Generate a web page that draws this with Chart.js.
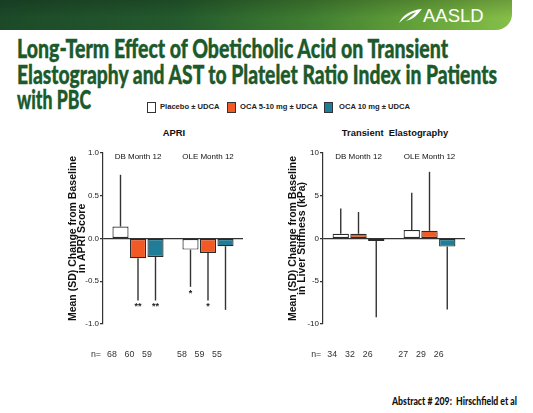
<!DOCTYPE html>
<html><head><meta charset="utf-8">
<script src="https://cdn.jsdelivr.net/npm/chart.js@4.4.0/dist/chart.umd.min.js"></script>
<style>
body{margin:0;width:533px;height:413px;overflow:hidden;background:#fff;font-family:'Liberation Sans',Arial,sans-serif;position:relative}
.abs{position:absolute;white-space:nowrap}
#hdr{position:absolute;left:0;top:0;width:512px;height:30px;border-bottom-right-radius:16px;
 background:linear-gradient(180deg,rgba(0,0,0,0.18),rgba(0,0,0,0) 60%),linear-gradient(90deg,#1c4a29 0%,#245a2d 35%,#3f7d31 60%,#6aa83c 85%,#86bf49 100%)}
#logo{position:absolute;left:423px;top:6px;color:#fff;font-size:18.5px;font-family:'Liberation Sans',Arial,sans-serif;line-height:20px}
.tl{position:absolute;left:17px;font-family:Lato,'Liberation Sans',sans-serif;font-weight:900;font-size:26px;color:#1c5a2b;line-height:26px;white-space:nowrap;transform-origin:0 0;-webkit-text-stroke:0.4px #1c5a2b}
.ct{position:absolute;font-weight:bold;font-size:9.4px;color:#111;transform:translateX(-50%);white-space:nowrap}
.lb{position:absolute;width:7px;height:9px;border:1px solid #333;top:102px}
.lt{position:absolute;top:102px;font-size:7.6px;font-weight:bold;color:#222;line-height:10px;white-space:nowrap}
canvas{position:absolute}
#foot{position:absolute;left:392px;top:395px;font-family:Lato,'Liberation Sans',sans-serif;font-weight:900;font-size:10.5px;color:#111;white-space:nowrap;transform-origin:0 0;line-height:12px}
</style></head>
<body>
<div id="hdr"></div>
<svg class="abs" style="left:398px;top:8px" width="25" height="16" viewBox="0 0 25 16"><path d="M1 15 C4 8 12 2 24 1 C20 6 16 11 8 13 C12 10 15 7 18 4 C12 6 6 10 1 15 Z" fill="#fff"/></svg>
<div id="logo">AASLD</div>
<div class="tl" data-w="431" style="top:35px"><span>Long-Term Effect of Obeticholic Acid on Transient</span></div>
<div class="tl" data-w="480" style="top:61px"><span>Elastography and AST to Platelet Ratio Index in Patients</span></div>
<div class="tl" data-w="74" style="top:86px"><span>with PBC</span></div>

<div class="lb" style="left:147px;background:#fff"></div><div class="lt" style="left:160px">Placebo ± UDCA</div>
<div class="lb" style="left:227px;background:#f15a24"></div><div class="lt" style="left:240px">OCA 5-10 mg ± UDCA</div>
<div class="lb" style="left:324px;background:#1f7d98"></div><div class="lt" style="left:339px">OCA 10 mg ± UDCA</div>

<div class="ct" style="left:174px;top:127px">APRI</div>
<div class="ct" style="left:395px;top:127px">Transient&nbsp; Elastography</div>

<canvas id="c1" width="200" height="245" style="left:60px;top:120px"></canvas>
<canvas id="c2" width="200" height="245" style="left:280px;top:120px"></canvas>

<div id="foot" data-w="125">Abstract # 209:&nbsp; Hirschfield et al</div>

<script>
// ---- data ----
const groups = ['DB Month 12', 'OLE Month 12'];
const seriesNames = ['Placebo ± UDCA', 'OCA 5-10 mg ± UDCA', 'OCA 10 mg ± UDCA'];

const apriPlacebo = [0.14, -0.13];
const apriOca510  = [-0.23, -0.17];
const apriOca10   = [-0.215, -0.09];
const apriPlaceboSD = [0.605, 0.435];
const apriOca510SD  = [0.495, 0.555];
const apriOca10SD   = [0.51, 0.745];
const apriPlaceboStars = ['', '*'];
const apriOca510Stars  = ['**', '*'];
const apriOca10Stars   = ['**', ''];
const apriPlaceboN = [68, 58];
const apriOca510N  = [60, 59];
const apriOca10N   = [59, 55];
const apriTicks = [-1.0, -0.5, 0.0, 0.5, 1.0];

const tePlacebo = [0.55, 1.0];
const teOca510  = [0.55, 0.9];
const teOca10   = [-0.3, -0.95];
const tePlaceboSD = [2.95, 4.35];
const teOca510SD  = [2.55, 6.9];
const teOca10SD   = [8.9, 7.35];
const tePlaceboStars = ['', ''];
const teOca510Stars  = ['', ''];
const teOca10Stars   = ['', ''];
const tePlaceboN = [34, 27];
const teOca510N  = [32, 29];
const teOca10N   = [26, 26];
const teTicks = [-10, -5, 0, 5, 10];

const colors = ['#ffffff', '#f15a24', '#1f7d98'];

Chart.defaults.font.family = "'Liberation Sans', Arial, sans-serif";
Chart.defaults.color = '#222';

const annot = {
  id: 'annot',
  afterDatasetsDraw(chart) {
    const ctx = chart.ctx, y = chart.scales.y, x = chart.scales.x, ca = chart.chartArea;
    ctx.save();
    let firstX = null;
    chart.data.datasets.forEach((ds, di) => {
      const meta = chart.getDatasetMeta(di);
      meta.data.forEach((bar, i) => {
        const v = ds.data[i], s = ds.sd[i];
        const end = v >= 0 ? v + s : v - s;
        const yv = y.getPixelForValue(v), ye = y.getPixelForValue(end);
        ctx.strokeStyle = '#333'; ctx.lineWidth = 1.4;
        ctx.beginPath(); ctx.moveTo(bar.x, yv); ctx.lineTo(bar.x, ye); ctx.stroke();
        ctx.fillStyle = '#222'; ctx.textAlign = 'center';
        if (ds.stars[i]) {
          ctx.font = "bold 9px 'Liberation Sans', Arial";
          ctx.textBaseline = 'top';
          ctx.fillText(ds.stars[i], bar.x, ye + 2);
        }
        ctx.font = "8.8px 'Liberation Sans', Arial";
        ctx.textBaseline = 'middle';
        ctx.fillStyle = '#333';
        ctx.fillText(String(ds.n[i]), bar.x - 8.5, ca.bottom + 31);
        if (di === 0 && i === 0) firstX = bar.x - 8.5;
      });
    });
    ctx.textAlign = 'right';
    ctx.fillText('n=', firstX - 11, ca.bottom + 31);
    ctx.fillStyle = '#111';
    ctx.textAlign = 'center';
    ctx.font = "8px 'Liberation Sans', Arial";
    chart.data.labels.forEach((l, i) => {
      ctx.fillText(l, x.getPixelForValue(i), ca.top + 4);
    });
    ctx.restore();
  }
};

function makeChart(id, vals, sds, stars, ns, ticks, titleLines, fmt, titlePad, rightPad) {
  const datasets = vals.map((d, k) => ({
    label: seriesNames[k], data: d, sd: sds[k], stars: stars[k], n: ns[k],
    backgroundColor: colors[k], borderColor: '#2a2a2a', borderWidth: 1.2, borderSkipped: false,
    categoryPercentage: 0.75, barPercentage: 0.92
  }));
  return new Chart(document.getElementById(id), {
    type: 'bar',
    data: { labels: groups, datasets },
    options: {
      responsive: false, animation: false, devicePixelRatio: 1,
      layout: { padding: { left: 0, right: rightPad, top: 33, bottom: 41 } },
      plugins: { legend: { display: false }, tooltip: { enabled: false } },
      scales: {
        x: { display: false },
        y: {
          min: ticks[0], max: ticks[ticks.length - 1],
          afterBuildTicks: (s) => { s.ticks = ticks.map(v => ({ value: v })); },
          afterFit: (s) => { s.width = 43; },
          ticks: { font: { size: 8 }, color: '#222', padding: 1, callback: fmt },
          grid: {
            drawOnChartArea: true, tickLength: 3, tickColor: '#333', lineWidth: 1.2,
            color: (c) => (c.tick && c.tick.value === 0) ? '#333' : 'rgba(0,0,0,0)'
          },
          border: { display: true, color: '#333', width: 1.2 },
          title: {
            display: true, text: titleLines, color: '#111',
            font: { size: 10.5, weight: 'bold', lineHeight: '9px' },
            padding: { top: titlePad, bottom: 0 }
          }
        }
      }
    },
    plugins: [annot]
  });
}

makeChart('c1', [apriPlacebo, apriOca510, apriOca10], [apriPlaceboSD, apriOca510SD, apriOca10SD],
  [apriPlaceboStars, apriOca510Stars, apriOca10Stars], [apriPlaceboN, apriOca510N, apriOca10N],
  apriTicks, ['Mean (SD) Change from Baseline', 'in APRI Score'], (v) => Number(v).toFixed(1), 8.5, 17);
makeChart('c2', [tePlacebo, teOca510, teOca10], [tePlaceboSD, teOca510SD, teOca10SD],
  [tePlaceboStars, teOca510Stars, teOca10Stars], [tePlaceboN, teOca510N, teOca10N],
  teTicks, ['Mean (SD) Change from Baseline', 'in Liver Stiffness (kPa)'], (v) => String(v), 9, 15);

// fit title lines to widths
document.querySelectorAll('.tl').forEach(el => {
  const sp = el.querySelector('span'); sp.style.display = 'inline-block';
  const w = sp.getBoundingClientRect().width;
  el.style.transform = 'scaleX(' + (parseFloat(el.dataset.w) / w) + ')';
});
const f = document.getElementById('foot'); f.style.display = 'inline-block';
f.style.transform = 'scaleX(' + (parseFloat(f.dataset.w) / f.getBoundingClientRect().width) + ')';
</script>
</body></html>
